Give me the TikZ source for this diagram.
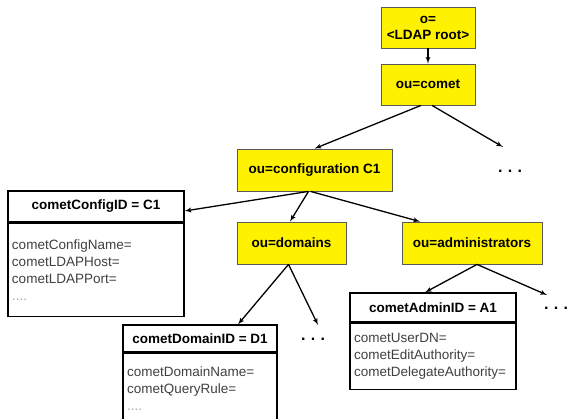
\documentclass[tikz,border=0pt]{standalone}
\usepackage{fontspec}
\setmainfont{Liberation Sans}
\usetikzlibrary{arrows,positioning}

\begin{document}
\begin{tikzpicture}[x=1pt,y=-1pt,
  ldapnode/.style = {shape=rectangle, draw=black!65, fill=yellow,
    align=center, inner sep=0pt, line width=0.8pt,
    font=\fontsize{13.5}{16}\selectfont\bfseries},
  entryhead/.style = {shape=rectangle, draw, fill=white, line width=1.2pt,
    inner sep=0pt, font=\fontsize{13.5}{16}\selectfont\bfseries},
  entryattr/.style = {shape=rectangle, draw, fill=white, line width=1.2pt,
    anchor=north, align=left, inner xsep=4pt, inner ysep=0pt,
    text=black!75, font=\fontsize{13.5}{17}\selectfont},
  line/.style={draw, -latex', line width=1.3pt},
  more/.style={font=\fontsize{16}{18}\selectfont\bfseries}
  ]
  \useasboundingbox (0,0) rectangle (569,419);
  % ldap tree
  \node[ldapnode, minimum width=94, minimum height=41] (root) at (428,27.5) {o=\\<LDAP root>};
  \node[ldapnode, minimum width=94, minimum height=41] (comet) at (428,84.5) {ou=comet};
  \node[ldapnode, minimum width=155, minimum height=42] (config) at (314.5,170) {ou=configuration C1};
  \node[ldapnode, minimum width=109, minimum height=42] (domains) at (291.5,243) {ou=domains};
  \node[ldapnode, minimum width=140, minimum height=42] (admin) at (472,243) {ou=administrators};
  % entries
  \node[entryhead, minimum width=176, minimum height=31] (cfgid) at (96,206.5) {cometConfigID = C1};
  \node[entryattr, minimum width=176, minimum height=93, text width=168] (cfgattr) at (cfgid.south)
    {cometConfigName=\\cometLDAPHost=\\cometLDAPPort=\\\textcolor{black!35}{....}};
  \node[entryhead, minimum width=154, minimum height=27] (domid) at (200,338.5) {cometDomainID = D1};
  \node[entryattr, minimum width=154, minimum height=70, text width=146] (domattr) at (domid.south)
    {cometDomainName=\\cometQueryRule=\\\textcolor{black!35}{....}\\[3pt]};
  \node[entryhead, minimum width=166, minimum height=29] (admid) at (433,307.5) {cometAdminID = A1};
  \node[entryattr, minimum width=166, minimum height=66, text width=158] (admattr) at (admid.south)
    {cometUserDN=\\cometEditAuthority=\\cometDelegateAuthority=};
  % more entries
  \node[more] (cometdots) at (510,171) {.\,\,.\,\,.};
  \node[more] (domdots) at (313,339) {.\,\,.\,\,.};
  \node[more] (admdots) at (556,308) {.\,\,.\,\,.};
  \coordinate (cometmore) at (503,147);
  \coordinate (dommore) at (318,325);
  \coordinate (admmore) at (547,295);
  % connectors
  \draw[line] (root) -- (comet);
  \draw[line] ([xshift=-7pt]comet.south) -- (config.north);
  \draw[line] ([xshift=4pt]comet.south) -- (cometmore);
  \draw[line] ([xshift=-6pt]config.south) -- ([yshift=-4.5pt]cfgid.east);
  \draw[line] ([xshift=-6pt]config.south) -- ([xshift=-1.5pt]domains.north);
  \draw[line] ([xshift=-4pt]config.south) -- ([xshift=-52pt]admin.north);
  \draw[line] ([xshift=-3pt]domains.south) -- ([xshift=38pt]domid.north);
  \draw[line] ([xshift=-3pt]domains.south) -- (dommore);
  \draw[line] ([xshift=5pt]admin.south) -- ([xshift=-8pt]admid.north);
  \draw[line] ([xshift=5pt]admin.south) -- (admmore);
\end{tikzpicture}
\end{document}
